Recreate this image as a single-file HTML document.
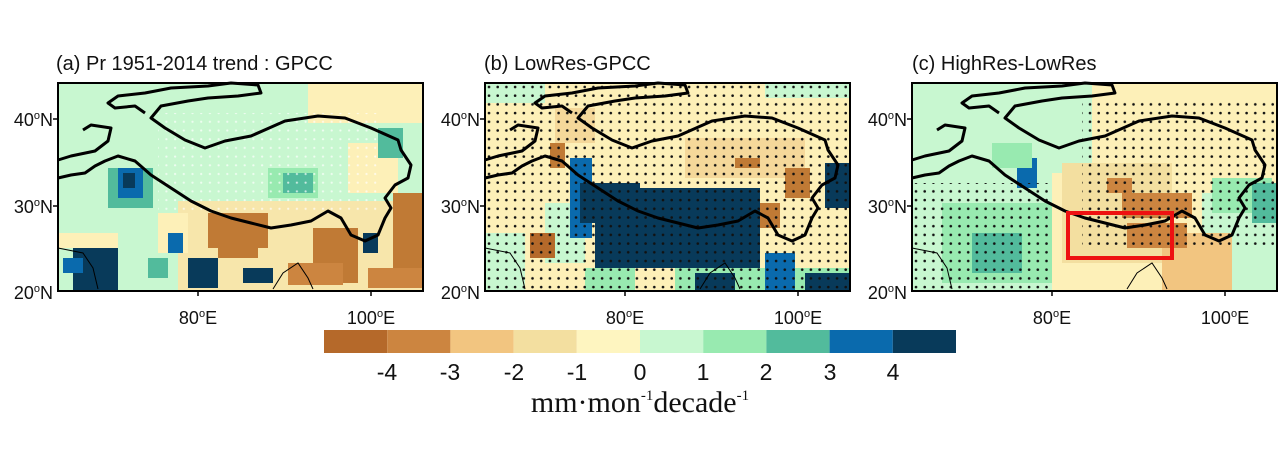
<!DOCTYPE html>
<html><head><meta charset="utf-8"><style>
html,body{margin:0;padding:0;background:#fff;}
svg{display:block;font-family:"Liberation Sans",sans-serif;}
</style></head><body>
<svg width="1280" height="451" viewBox="0 0 1280 451" xmlns="http://www.w3.org/2000/svg">
<defs>
<pattern id="dk" x="0" y="0" width="8.7" height="8.7" patternUnits="userSpaceOnUse"><circle cx="4" cy="4" r="1.3" fill="#111"/></pattern>
<pattern id="wd" x="0" y="0" width="8.7" height="8.7" patternUnits="userSpaceOnUse"><circle cx="4" cy="4" r="1.1" fill="#fff"/></pattern>
<g id="outl" fill="none" stroke="#000" stroke-width="3" stroke-linejoin="round">
<path d="M0,95 L13,92 27,90 37,83 47,78 60,73 77,78 93,92 113,105 133,118 153,128 173,135 193,140 213,145 233,142 253,138 270,128 283,135 293,152 307,158 320,152 327,135 333,125 327,115 337,102 350,95 353,82 343,67 340,57 313,45 287,35 260,33 227,38 193,53 167,58 147,65 127,57 107,45 93,35 103,23 130,18 150,15 180,13 203,10 200,2 173,0 150,3 113,5 87,10 60,13 50,20 57,25 77,23 87,30"/>
<path d="M0,77 L13,73 37,68 50,58 53,45 33,42 25,47"/>
</g>
<g id="coast" fill="none" stroke="#000" stroke-width="1">
<path d="M0,165 L25,170 35,185 40,206"/>
<path d="M215,206 L225,190 240,180 250,195 255,206"/>
</g>
</defs>

<!-- Panel A -->
<g transform="translate(58,83)">
<rect width="365" height="208" fill="#c8f7d0"/>
<rect x="250" y="0" width="115" height="40" fill="#fdf0b8"/>
<rect x="0" y="150" width="60" height="15" fill="#fdf0b8"/>
<rect x="120" y="118" width="245" height="90" fill="#f7e6ab"/>
<rect x="290" y="60" width="50" height="50" fill="#fdf0b8"/>
<rect x="100" y="130" width="30" height="40" fill="#fdf0b8"/>
<rect x="210" y="85" width="50" height="30" fill="#98eab0"/>
<rect x="225" y="90" width="30" height="20" fill="#52bb9c"/>
<rect x="320" y="45" width="25" height="30" fill="#52bb9c"/>
<rect x="50" y="85" width="45" height="40" fill="#52bb9c"/>
<rect x="60" y="85" width="25" height="30" fill="#0a6aad"/>
<rect x="65" y="90" width="12" height="15" fill="#083a5a"/>
<rect x="150" y="130" width="60" height="35" fill="#c07a35"/>
<rect x="160" y="150" width="40" height="25" fill="#c07a35"/>
<rect x="255" y="145" width="45" height="55" fill="#c07a35"/>
<rect x="335" y="110" width="30" height="90" fill="#c07a35"/>
<rect x="230" y="180" width="55" height="22" fill="#cc8540"/>
<rect x="310" y="185" width="55" height="20" fill="#cc8540"/>
<rect x="15" y="165" width="45" height="43" fill="#083a5a"/>
<rect x="5" y="175" width="20" height="15" fill="#0a6aad"/>
<rect x="130" y="175" width="30" height="30" fill="#083a5a"/>
<rect x="110" y="150" width="15" height="20" fill="#0a6aad"/>
<rect x="90" y="175" width="20" height="20" fill="#52bb9c"/>
<rect x="185" y="185" width="30" height="15" fill="#083a5a"/>
<rect x="305" y="150" width="15" height="20" fill="#083a5a"/>
<rect x="100" y="30" width="220" height="100" fill="url(#wd)" opacity="0.7"/>
<use href="#coast"/><use href="#outl"/>
<rect width="365" height="208" fill="none" stroke="#000" stroke-width="2"/>
</g>

<!-- Panel B -->
<g transform="translate(485,83)">
<rect width="365" height="208" fill="#fdf0b8"/>
<rect x="0" y="0" width="60" height="20" fill="#c8f7d0"/>
<rect x="280" y="0" width="85" height="15" fill="#c8f7d0"/>
<rect x="0" y="150" width="40" height="58" fill="#c8f7d0"/>
<rect x="60" y="120" width="40" height="60" fill="#c8f7d0"/>
<rect x="200" y="55" width="120" height="40" fill="#f5d89a"/>
<rect x="70" y="25" width="40" height="35" fill="#f5d89a"/>
<rect x="65" y="60" width="15" height="25" fill="#c07a35"/>
<rect x="85" y="75" width="22" height="80" fill="#0a6aad"/>
<rect x="95" y="100" width="60" height="40" fill="#083a5a"/>
<rect x="110" y="105" width="165" height="80" fill="#083a5a"/>
<rect x="45" y="150" width="25" height="25" fill="#b5692a"/>
<rect x="300" y="85" width="25" height="30" fill="#c07a35"/>
<rect x="275" y="120" width="20" height="25" fill="#c07a35"/>
<rect x="250" y="75" width="25" height="10" fill="#c07a35"/>
<rect x="340" y="80" width="25" height="45" fill="#083a5a"/>
<rect x="100" y="185" width="265" height="23" fill="#98eab0"/>
<rect x="150" y="185" width="40" height="23" fill="#fdf0b8"/>
<rect x="210" y="190" width="40" height="18" fill="#083a5a"/>
<rect x="280" y="170" width="30" height="38" fill="#0a6aad"/>
<rect x="320" y="190" width="45" height="18" fill="#083a5a"/>
<rect x="0" y="0" width="365" height="208" fill="url(#dk)"/>
<use href="#coast"/><use href="#outl"/>
<rect width="365" height="208" fill="none" stroke="#000" stroke-width="2"/>
</g>

<!-- Panel C -->
<g transform="translate(912,83)">
<rect width="365" height="208" fill="#c8f7d0"/>
<rect x="180" y="0" width="185" height="110" fill="#fdf0b8"/>
<rect x="140" y="90" width="150" height="118" fill="#fdf0b8"/>
<rect x="150" y="80" width="110" height="100" fill="#f3dfa0"/>
<rect x="250" y="150" width="70" height="58" fill="#f2c580"/>
<rect x="195" y="95" width="25" height="15" fill="#cc8540"/>
<rect x="210" y="110" width="70" height="25" fill="#cc8540"/>
<rect x="215" y="140" width="60" height="25" fill="#cc8540"/>
<rect x="30" y="120" width="110" height="80" fill="#98eab0"/>
<rect x="60" y="150" width="50" height="40" fill="#52bb9c"/>
<rect x="105" y="75" width="20" height="30" fill="#0a6aad"/>
<rect x="80" y="60" width="40" height="25" fill="#98eab0"/>
<rect x="300" y="95" width="60" height="35" fill="#98eab0"/>
<rect x="340" y="100" width="25" height="40" fill="#52bb9c"/>
<rect x="0" y="100" width="140" height="108" fill="url(#dk)"/>
<rect x="170" y="15" width="195" height="150" fill="url(#dk)"/>
<use href="#coast"/><use href="#outl"/>
<rect x="156" y="130" width="104" height="45" fill="none" stroke="#ee1111" stroke-width="4"/>
<rect width="365" height="208" fill="none" stroke="#000" stroke-width="2"/>
</g>

<!-- titles -->
<g font-size="20" fill="#111">
<text x="56" y="70">(a) Pr 1951-2014 trend : GPCC</text>
<text x="484" y="70">(b) LowRes-GPCC</text>
<text x="912" y="70">(c) HighRes-LowRes</text>
</g>

<!-- axes labels -->
<g font-size="18" fill="#111" text-anchor="end">
<text x="53" y="126">40<tspan font-size="11" dy="-7">o</tspan><tspan dy="7">N</tspan></text>
<text x="53" y="213">30<tspan font-size="11" dy="-7">o</tspan><tspan dy="7">N</tspan></text>
<text x="53" y="299">20<tspan font-size="11" dy="-7">o</tspan><tspan dy="7">N</tspan></text>
<text x="480" y="126">40<tspan font-size="11" dy="-7">o</tspan><tspan dy="7">N</tspan></text>
<text x="480" y="213">30<tspan font-size="11" dy="-7">o</tspan><tspan dy="7">N</tspan></text>
<text x="480" y="299">20<tspan font-size="11" dy="-7">o</tspan><tspan dy="7">N</tspan></text>
<text x="907" y="126">40<tspan font-size="11" dy="-7">o</tspan><tspan dy="7">N</tspan></text>
<text x="907" y="213">30<tspan font-size="11" dy="-7">o</tspan><tspan dy="7">N</tspan></text>
<text x="907" y="299">20<tspan font-size="11" dy="-7">o</tspan><tspan dy="7">N</tspan></text>
</g>
<g font-size="18" fill="#111" text-anchor="middle">
<text x="198" y="324">80<tspan font-size="11" dy="-7">o</tspan><tspan dy="7">E</tspan></text>
<text x="371" y="324">100<tspan font-size="11" dy="-7">o</tspan><tspan dy="7">E</tspan></text>
<text x="625" y="324">80<tspan font-size="11" dy="-7">o</tspan><tspan dy="7">E</tspan></text>
<text x="798" y="324">100<tspan font-size="11" dy="-7">o</tspan><tspan dy="7">E</tspan></text>
<text x="1052" y="324">80<tspan font-size="11" dy="-7">o</tspan><tspan dy="7">E</tspan></text>
<text x="1225" y="324">100<tspan font-size="11" dy="-7">o</tspan><tspan dy="7">E</tspan></text>
</g>
<g stroke="#000" stroke-width="1.5">
<path d="M53,119H58M53,206H58M480,119H485M480,206H485M907,119H912M907,206H912"/>
<path d="M198,291V296M371,291V296M625,291V296M798,291V296M1052,291V296M1225,291V296"/>
</g>

<!-- colorbar -->
<g>
<rect x="324" y="330" width="63.2" height="23" fill="#b5692a"/>
<rect x="387.2" y="330" width="63.2" height="23" fill="#cc8540"/>
<rect x="450.4" y="330" width="63.2" height="23" fill="#f2c580"/>
<rect x="513.6" y="330" width="63.2" height="23" fill="#f3dfa0"/>
<rect x="576.8" y="330" width="63.2" height="23" fill="#fef5c0"/>
<rect x="640" y="330" width="63.2" height="23" fill="#c8f7d0"/>
<rect x="703.2" y="330" width="63.2" height="23" fill="#98eab0"/>
<rect x="766.4" y="330" width="63.2" height="23" fill="#52bb9c"/>
<rect x="829.6" y="330" width="63.2" height="23" fill="#0a6aad"/>
<rect x="892.8" y="330" width="63.2" height="23" fill="#083a5a"/>
</g>
<g font-size="23" fill="#111" text-anchor="middle">
<text x="387" y="380">-4</text><text x="450" y="380">-3</text><text x="514" y="380">-2</text>
<text x="577" y="380">-1</text><text x="640" y="380">0</text><text x="703" y="380">1</text>
<text x="766" y="380">2</text><text x="830" y="380">3</text><text x="893" y="380">4</text>
</g>
<text x="640" y="412" font-family="Liberation Serif, serif" font-size="30" fill="#111" text-anchor="middle">mm·mon<tspan font-size="15" dy="-12">-1</tspan><tspan dy="12">decade</tspan><tspan font-size="15" dy="-12">-1</tspan></text>
</svg>
</body></html>
